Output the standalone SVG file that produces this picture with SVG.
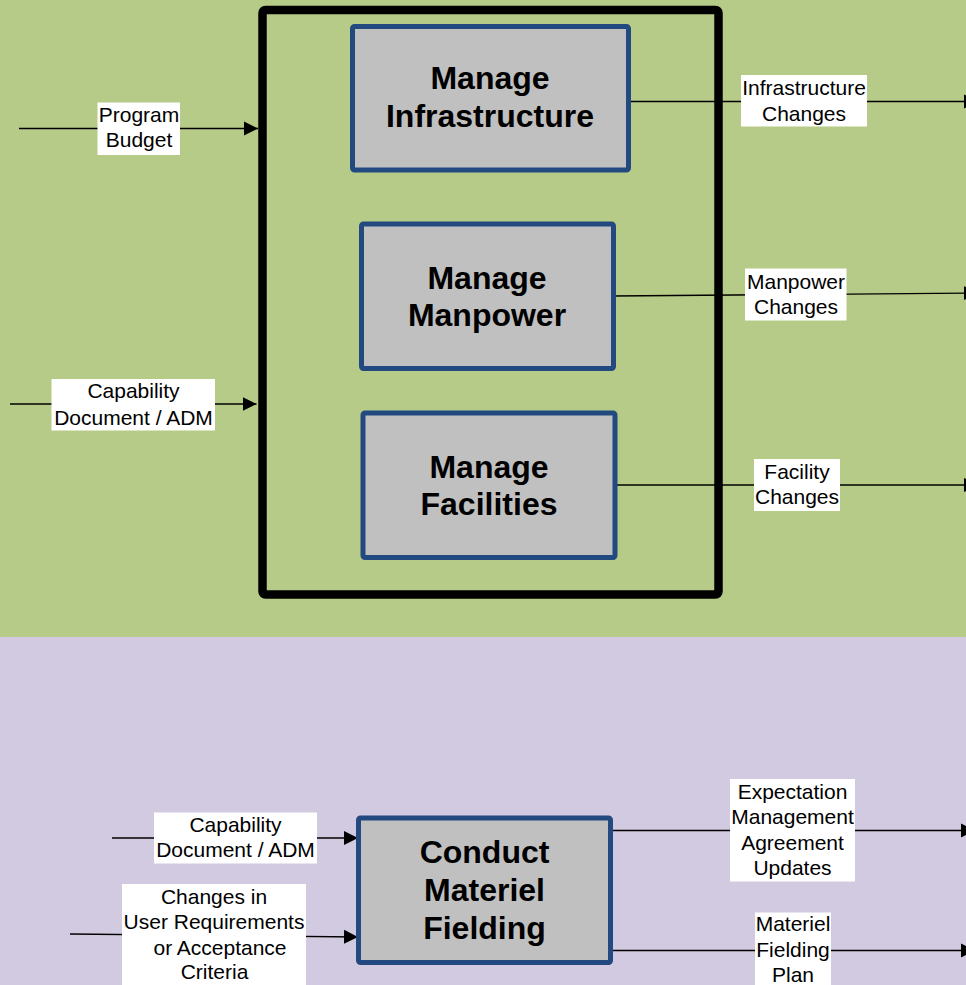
<svg xmlns="http://www.w3.org/2000/svg" width="966" height="985" viewBox="0 0 966 985">
<defs>
<marker id="arr" markerUnits="userSpaceOnUse" markerWidth="15" markerHeight="16" viewBox="0 0 15 16" refX="14" refY="8" orient="auto">
<path d="M0,1 L14,8 L0,15 Z" fill="#000"/>
</marker>
<style>
.proc{fill:#C0C0C0;stroke:#224A80;stroke-width:5;}
.ptxt{font-family:"Liberation Sans",Arial,sans-serif;font-weight:bold;font-size:32px;fill:#000;text-anchor:middle;}
.lbl{fill:#FFFFFF;}
.ltxt{font-family:"Liberation Sans",Arial,sans-serif;font-size:21px;fill:#000;text-anchor:middle;}
.conn{stroke:#000;stroke-width:1.3;fill:none;}
</style>
</defs>
<rect x="0" y="0" width="966" height="637" fill="#B7CB88"/>
<rect x="0" y="637" width="966" height="348" fill="#D2CAE0"/>
<g id="outer">
<rect x="262.5" y="10" width="456" height="584.5" rx="3" fill="none" stroke="#000" stroke-width="8.5"/>
</g>
<g id="connectors">
<line class="conn" x1="19" y1="128.5" x2="258" y2="128.5" marker-end="url(#arr)"/>
<line class="conn" x1="10" y1="404" x2="256.5" y2="404" marker-end="url(#arr)"/>
<line class="conn" x1="628" y1="101.5" x2="978" y2="101.5" marker-end="url(#arr)"/>
<line class="conn" x1="613" y1="296" x2="978" y2="293" marker-end="url(#arr)"/>
<line class="conn" x1="615" y1="485" x2="978" y2="485" marker-end="url(#arr)"/>
<line class="conn" x1="112" y1="838" x2="358" y2="838" stroke="#444" marker-end="url(#arr)"/>
<line class="conn" x1="70" y1="934" x2="358" y2="937" marker-end="url(#arr)"/>
<line class="conn" x1="610" y1="830.5" x2="975" y2="830.5" marker-end="url(#arr)"/>
<line class="conn" x1="610" y1="950.5" x2="975" y2="950.5" marker-end="url(#arr)"/>
</g>
<g id="node-infrastructure">
<rect class="proc" x="352.5" y="26.5" width="276" height="143.5" rx="2"/>
<text class="ptxt" x="490" y="88.5">Manage</text>
<text class="ptxt" x="490" y="126.5">Infrastructure</text>
</g>
<g id="node-manpower">
<rect class="proc" x="361.5" y="224" width="252" height="144.5" rx="2"/>
<text class="ptxt" x="487" y="288.5">Manage</text>
<text class="ptxt" x="487" y="325.5">Manpower</text>
</g>
<g id="node-facilities">
<rect class="proc" x="363" y="413" width="252" height="144.5" rx="2"/>
<text class="ptxt" x="489" y="477.5">Manage</text>
<text class="ptxt" x="489" y="514.5">Facilities</text>
</g>
<g id="node-fielding">
<rect class="proc" x="358.5" y="818" width="252" height="144.5" rx="2"/>
<text class="ptxt" x="484.5" y="862.5">Conduct</text>
<text class="ptxt" x="484.5" y="900.5">Materiel</text>
<text class="ptxt" x="484.5" y="939">Fielding</text>
</g>
<g id="label-program-budget">
<rect class="lbl" x="97.5" y="102.5" width="82.5" height="52.5"/>
<text class="ltxt" x="139" y="122">Program</text>
<text class="ltxt" x="139" y="147">Budget</text>
</g>
<g id="label-capability-top">
<rect class="lbl" x="51.5" y="379" width="163.5" height="51.5"/>
<text class="ltxt" x="133.5" y="398">Capability</text>
<text class="ltxt" x="133.5" y="424.5">Document / ADM</text>
</g>
<g id="label-infrastructure-changes">
<rect class="lbl" x="741" y="75" width="126" height="51.5"/>
<text class="ltxt" x="804" y="95">Infrastructure</text>
<text class="ltxt" x="804" y="121">Changes</text>
</g>
<g id="label-manpower-changes">
<rect class="lbl" x="745" y="268.5" width="101.5" height="52"/>
<text class="ltxt" x="796" y="289">Manpower</text>
<text class="ltxt" x="796" y="314">Changes</text>
</g>
<g id="label-facility-changes">
<rect class="lbl" x="754" y="459" width="86" height="52"/>
<text class="ltxt" x="797" y="478.5">Facility</text>
<text class="ltxt" x="797" y="504">Changes</text>
</g>
<g id="label-capability-bottom">
<rect class="lbl" x="154" y="812.5" width="163" height="51"/>
<text class="ltxt" x="235.5" y="832">Capability</text>
<text class="ltxt" x="235.5" y="857">Document / ADM</text>
</g>
<g id="label-user-requirements">
<rect class="lbl" x="122" y="884" width="184" height="101"/>
<text class="ltxt" x="214" y="904">Changes in</text>
<text class="ltxt" x="214" y="928.5">User Requirements</text>
<text class="ltxt" x="220" y="954.5">or Acceptance</text>
<text class="ltxt" x="214.5" y="978.5">Criteria</text>
</g>
<g id="label-expectation">
<rect class="lbl" x="730" y="779" width="125" height="102.5"/>
<text class="ltxt" x="792.5" y="798.5">Expectation</text>
<text class="ltxt" x="792.5" y="823.5">Management</text>
<text class="ltxt" x="792.5" y="849.5">Agreement</text>
<text class="ltxt" x="792.5" y="874.5">Updates</text>
</g>
<g id="label-fielding-plan">
<rect class="lbl" x="755" y="912.5" width="76" height="72.5"/>
<text class="ltxt" x="793" y="931">Materiel</text>
<text class="ltxt" x="793" y="956.5">Fielding</text>
<text class="ltxt" x="793" y="981.5">Plan</text>
</g>
</svg>
